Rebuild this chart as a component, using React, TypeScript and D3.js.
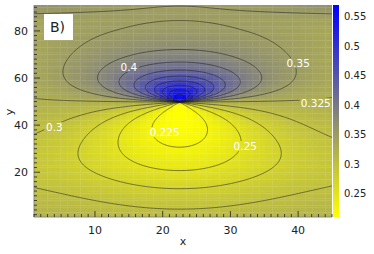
import React from "react";
import * as d3 from "d3";

const width = 374;
const height = 254;
const box = { left: 34, right: 332, top: 5, bottom: 217 };

const xTicks = [10, 20, 30, 40];
const yTicks = [20, 40, 60, 80];
const cbTicks = [0.25, 0.3, 0.35, 0.4, 0.45, 0.5, 0.55];
const levels = [0.225, 0.25, 0.275, 0.3, 0.325, 0.35, 0.375, 0.4, 0.425, 0.45, 0.475, 0.5, 0.525, 0.55];
const colorDomain = [0.21, 0.39, 0.57];
const colorStops = ["#ffff00", "#808080", "#0000ff"];

// field parameters
const centre = [22.5, 49.8];
const baseLevel = 0.325;
const upperLobe = [0.245, 11.3]; // peak rise, radius
const lowerLobe = [0.112, 12, 23]; // peak drop, x width, y width
const lowerTrough = [0.025, -27, 13]; // depth, centre (s), width
const sideDip = [0.007, 17, 17, 12]; // depth, x scale, centre (s), width
const topRise = [6.5e-5, 30, 2.84, 21.5]; // rate, start (s), edge gain, x scale

const labelText = ["0.4", "0.35", "0.325", "0.3", "0.225", "0.25"];
const labelX = [15.0, 40.0, 42.6, 4.0, 20.3, 32.2];
const labelY = [64.7, 66.3, 49.5, 39.2, 37.0, 31.1];

function field(x: number, y: number) {
  const dx = x - centre[0];
  const s = y - centre[1];
  const r2 = dx * dx + s * s;
  const r = Math.sqrt(r2) || 1e-6;
  const sin = s / r;
  let lobe = 0;
  if (s >= 0) {
    lobe = (upperLobe[0] * sin) / (1 + r2 / (upperLobe[1] * upperLobe[1]));
  } else {
    lobe = lowerLobe[0] * sin * Math.exp(-(dx * dx) / (2 * lowerLobe[1] ** 2) - (s * s) / (2 * lowerLobe[2] ** 2));
  }
  const low = -lowerTrough[0] * Math.exp(-((s - lowerTrough[1]) ** 2) / (2 * lowerTrough[2] ** 2));
  const side =
    s > 0
      ? -sideDip[0] * (dx / sideDip[1]) ** 2 * Math.exp(-((s - sideDip[2]) ** 2) / (2 * sideDip[3] ** 2)) * (1 - Math.exp(-s / 4))
      : 0;
  const top = s > topRise[1] ? topRise[0] * (s - topRise[1]) ** 2 * (1 + topRise[2] * (dx / topRise[3]) ** 2) : 0;
  return baseLevel + lobe + low + side + top;
}

const App = () => {
  const xs = d3.scaleLinear().domain([1, 45]).range([box.left, box.right]);
  const ys = d3.scaleLinear().domain([1, 91]).range([box.bottom, box.top]);
  const cs = d3.scaleLinear().domain([0.21, 0.57]).range([box.bottom, box.top]);
  const color = d3.scaleLinear<string>().domain(colorDomain).range(colorStops).interpolate(d3.interpolateRgb).clamp(true);

  // heat map cells
  const nx = 45, ny = 90;
  const cw = 44 / nx;
  const cells: { x: number; y: number; v: number }[] = [];
  for (let j = 0; j < ny; j++) {
    for (let i = 0; i < nx; i++) {
      const x = 1 + (i + 0.5) * cw;
      const y = 1 + j + 0.5;
      cells.push({ x, y, v: field(x, y) });
    }
  }

  // contours on a finer grid that runs past the frame
  const step = 0.25, gx0 = -0.5, gy0 = -0.5;
  const gnx = 189, gny = 373;
  const grid = new Array(gnx * gny);
  for (let j = 0; j < gny; j++)
    for (let i = 0; i < gnx; i++) grid[j * gnx + i] = field(gx0 + i * step, gy0 + j * step);
  const contours = d3.contours().size([gnx, gny]).thresholds(levels)(grid);
  const proj = d3.geoTransform({
    point(u: number, v: number) {
      // @ts-ignore
      this.stream.point(xs(gx0 + (u - 0.5) * step), ys(gy0 + (v - 0.5) * step));
    },
  });
  const path = d3.geoPath(proj);

  const font = "DejaVu Sans, sans-serif";
  const gradStops = d3.range(0, 1.0001, 0.05);

  return (
    <svg width={width} height={height} style={{ position: "absolute", left: 0, top: 0, background: "#fff" }} fontFamily={font}>
      <defs>
        <clipPath id="plotClip">
          <rect x={box.left} y={box.top} width={box.right - box.left} height={box.bottom - box.top} />
        </clipPath>
        <mask id="labelMask">
          <rect x={0} y={0} width={width} height={height} fill="#fff" />
          {labelText.map((t, i) => (
            <rect key={t} x={xs(labelX[i]) - t.length * 3 - 1} y={ys(labelY[i]) - 5} width={t.length * 6 + 2} height={10} fill="#000" />
          ))}
        </mask>
        <linearGradient id="cbGrad" x1="0" y1="1" x2="0" y2="0">
          {gradStops.map((t) => (
            <stop key={t} offset={`${t * 100}%`} stopColor={color(0.21 + t * 0.36)} />
          ))}
        </linearGradient>
      </defs>

      <g clipPath="url(#plotClip)">
        {cells.map((c, i) => (
          <rect
            key={i}
            x={xs(c.x - cw / 2)}
            y={ys(c.y + 0.5)}
            width={xs(c.x + cw / 2) - xs(c.x - cw / 2) + 0.3}
            height={ys(c.y - 0.5) - ys(c.y + 0.5) + 0.3}
            fill={color(c.v)}
          />
        ))}
        <g mask="url(#labelMask)">
          {contours.map((c) => (
            <path key={c.value} d={path(c as any) || ""} fill="none" stroke="#1a1a1a" strokeOpacity={0.75} strokeWidth={0.7} />
          ))}
        </g>
      </g>

      {labelText.map((t, i) => (
        <text key={t} x={xs(labelX[i])} y={ys(labelY[i])} dy="0.36em" textAnchor="middle" fontSize={10.5} fill="#fff">
          {t}
        </text>
      ))}

      {/* axes */}
      <line x1={box.left} x2={box.left} y1={box.top} y2={box.bottom} stroke="#8a8a8a" />
      <line x1={box.left} x2={box.right} y1={box.bottom} y2={box.bottom} stroke="#8a8a8a" />
      {d3.range(1, 46).map((t) => (
        <line key={"xt" + t} x1={xs(t)} x2={xs(t)} y1={box.bottom} y2={box.bottom - (t % 10 === 0 ? 6 : 3)} stroke="#222" strokeWidth={0.8} />
      ))}
      {d3.range(2, 91, 2).map((t) => (
        <line key={"yt" + t} x1={box.left} x2={box.left + (t % 20 === 0 ? 6 : 3)} y1={ys(t)} y2={ys(t)} stroke="#222" strokeWidth={0.8} />
      ))}
      {xTicks.map((t) => (
        <text key={"xl" + t} x={xs(t)} y={234} textAnchor="middle" fontSize={11} fill="#222">
          {t}
        </text>
      ))}
      {yTicks.map((t) => (
        <text key={"yl" + t} x={28} y={ys(t)} dy="0.36em" textAnchor="end" fontSize={11} fill="#222">
          {t}
        </text>
      ))}
      <text x={183} y={245} textAnchor="middle" fontSize={11} fill="#222">x</text>
      <text transform="translate(13,112) rotate(-90)" textAnchor="middle" fontSize={11} fill="#222">y</text>

      {/* panel tag */}
      <rect x={44} y={14} width={29} height={26} fill="#fff" />
      <text x={50} y={31.5} fontSize={14} fill="#222">B)</text>

      {/* colour bar */}
      <rect x={333} y={box.top} width={6} height={box.bottom - box.top} fill="url(#cbGrad)" />
      {cbTicks.map((t) => (
        <text key={"cb" + t} x={344} y={cs(t)} dy="0.36em" fontSize={10} fill="#222">
          {t}
        </text>
      ))}
    </svg>
  );
};

export default App;
